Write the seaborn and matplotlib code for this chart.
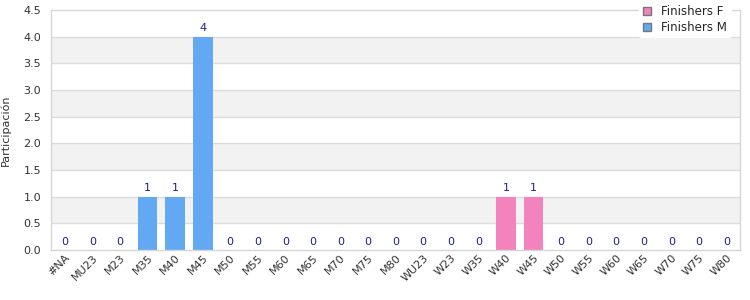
import matplotlib
matplotlib.use("Agg")
import matplotlib.pyplot as plt
import seaborn as sns
import pandas as pd
from matplotlib.patches import Patch

categories = ["#NA", "MU23", "M23", "M35", "M40", "M45", "M50", "M55", "M60", "M65",
              "M70", "M75", "M80", "WU23", "W23", "W35", "W40", "W45", "W50", "W55",
              "W60", "W65", "W70", "W75", "W80"]
values = [0, 0, 0, 1, 1, 4, 0, 0, 0, 0, 0, 0, 0, 0, 0, 0, 1, 1, 0, 0, 0, 0, 0, 0, 0]
series = ["Finishers M"] * 13 + ["Finishers F"] * 12
ylabel = "Participación"

colors = {"Finishers F": "#f283bc", "Finishers M": "#62a8f2"}

df = pd.DataFrame({"cat": categories, "val": values, "series": series})

sns.set_style("white")
plt.rcParams['font.family'] = ['DejaVu Sans']

fig, ax = plt.subplots(figsize=(7.5, 3), dpi=100)
fig.subplots_adjust(left=0.068, right=0.987, top=0.967, bottom=0.167)

for lo in [0.5, 1.5, 2.5, 3.5]:
    ax.axhspan(lo, lo + 0.5, color="#f2f2f2", zorder=0, lw=0)
for y in [0.5, 1, 1.5, 2, 2.5, 3, 3.5, 4]:
    ax.axhline(y, color="#dcdcdc", lw=1, zorder=0.5)

sns.barplot(data=df, x="cat", y="val", hue="series", order=categories,
            palette=colors, dodge=False, width=0.72, saturation=1,
            legend=False, ax=ax, zorder=2, linewidth=0, edgecolor="none")

for i, v in enumerate(values):
    ax.text(i, v + 0.06, str(v), ha="center", va="bottom", fontsize=8,
            color="#1f1f8f", zorder=3)

ax.set_ylim(0, 4.5)
ax.set_xlim(-0.5, len(categories) - 0.5)
ax.set_yticks([0, 0.5, 1, 1.5, 2, 2.5, 3, 3.5, 4, 4.5])
ax.set_yticklabels(["0.0", "0.5", "1.0", "1.5", "2.0", "2.5", "3.0", "3.5", "4.0", "4.5"])
ax.tick_params(axis="y", labelsize=8, colors="#333333", length=0, pad=7)
ax.tick_params(axis="x", labelsize=8, colors="#333333", length=0, pad=2)
plt.setp(ax.get_xticklabels(), rotation=45, ha="right", rotation_mode="anchor")
ax.set_xlabel("")
ax.set_ylabel(ylabel, fontsize=8, color="#333333", labelpad=9)

for s in ax.spines.values():
    s.set_color("#d6d6d6")
    s.set_linewidth(1)

handles = [Patch(facecolor=colors["Finishers F"], edgecolor="#777777", label="Finishers F"),
           Patch(facecolor=colors["Finishers M"], edgecolor="#777777", label="Finishers M")]
leg = ax.legend(handles=handles, loc="upper right", bbox_to_anchor=(0.995, 1.06),
                fontsize=8.5, frameon=True, handlelength=0.7, handleheight=0.7,
                borderpad=0.3, labelspacing=0.25, handletextpad=0.9)
leg.get_frame().set_facecolor("white")
leg.get_frame().set_edgecolor("white")
leg.get_frame().set_alpha(1)
leg.set_zorder(5)

fig.savefig("out.png", dpi=100)
